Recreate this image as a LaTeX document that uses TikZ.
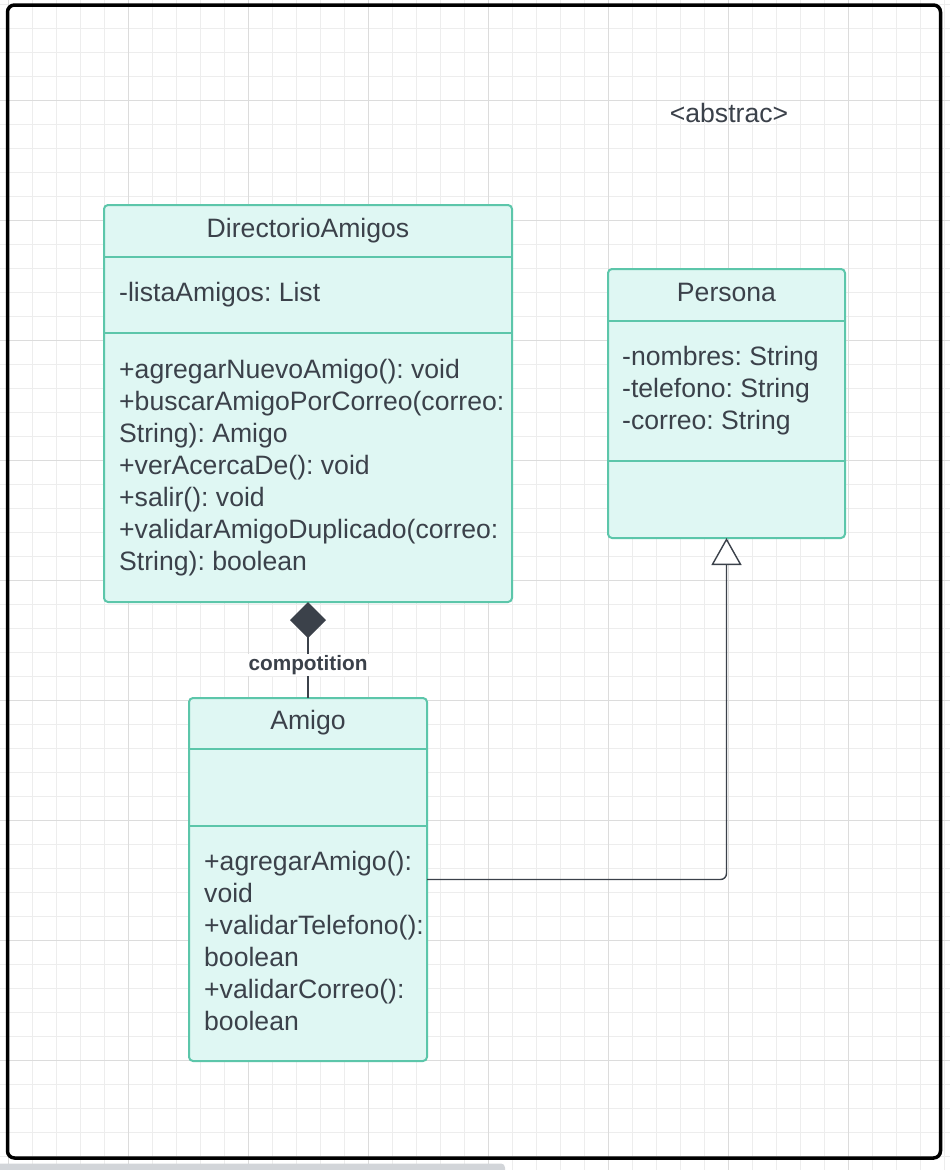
\documentclass[tikz,border=0pt]{standalone}
\usepackage{fontspec}
\setmainfont{Liberation Sans}
\usetikzlibrary{arrows.meta}
\definecolor{gridminor}{HTML}{EDEDED}
\definecolor{gridmajor}{HTML}{DCDCDC}
\definecolor{umlline}{HTML}{5CC6AA}
\definecolor{umlfill}{HTML}{DFF7F3}
\definecolor{ink}{HTML}{3B414A}
\definecolor{barcol}{HTML}{D2D5D9}
\frenchspacing
\tikzset{
  gminor/.style={draw=gridminor, line width=1pt},
  gmajor/.style={draw=gridmajor, line width=1pt},
  umlbox/.style={draw=umlline, fill=umlfill, line width=2pt, rounded corners=4pt,
    inner sep=0pt, outer sep=0pt, anchor=north west},
  divider/.style={draw=umlline, line width=2pt},
  txt/.style={anchor=base west, inner sep=0pt, text=ink, font=\fontsize{26.6}{32}\selectfont},
  ttl/.style={anchor=base, inner sep=0pt, text=ink, font=\fontsize{26.6}{32}\selectfont},
  conn/.style={draw=ink, line width=1.4pt},
  lbl/.style={fill=white, inner sep=1.5pt, text=ink, font=\bfseries\fontsize{20.8}{24}\selectfont}
}
\begin{document}
\begin{tikzpicture}[x=1pt,y=-1pt]
\useasboundingbox (0,0) rectangle (950,1170);
\fill[white] (0,0) rectangle (950,1170);
% grid
\foreach \x in {8,32,...,944} \draw[gminor] (\x,0) -- (\x,1170);
\foreach \y in {4,28,...,1168} \draw[gminor] (0,\y) -- (950,\y);
\foreach \x in {8,128,...,848} \draw[gmajor] (\x,0) -- (\x,1170);
\foreach \y in {100,220,...,1060} \draw[gmajor] (0,\y) -- (950,\y);
% bottom bar
\fill[barcol, rounded corners=4pt] (-10,1163.5) rectangle (505,1180);
% frame
\node[draw=black, line width=3.5pt, rounded corners=7pt, inner sep=0pt, outer sep=0pt,
  minimum width=933pt, minimum height=1153pt, anchor=north west] (frame) at (7.5,5) {};
% stereotype text
\node[ttl] (abs) at (729,122) {<abstrac>};

% DirectorioAmigos
\node[umlbox, minimum width=408pt, minimum height=397pt] (dir) at (104,205) {};
\draw[divider] (104,256.5) -- (512,256.5);
\draw[divider] (104,333) -- (512,333);
\node[ttl] (dirT) at (308,237) {DirectorioAmigos};
\node[txt] (dirA1) at (119,301) {-listaAmigos: List};
\node[txt] (dirM1) at (119,378) {+agregarNuevoAmigo(): void};
\node[txt] (dirM2) at (119,410) {+buscarAmigoPorCorreo(correo:};
\node[txt] (dirM3) at (119,442) {String): Amigo};
\node[txt] (dirM4) at (119,474) {+verAcercaDe(): void};
\node[txt] (dirM5) at (119,506) {+salir(): void};
\node[txt] (dirM6) at (119,538) {+validarAmigoDuplicado(correo:};
\node[txt] (dirM7) at (119,570) {String): boolean};

% Persona
\node[umlbox, minimum width=237pt, minimum height=269pt] (per) at (608,269) {};
\draw[divider] (608,320.5) -- (845,320.5);
\draw[divider] (608,461) -- (845,461);
\node[ttl] (perT) at (726.5,301) {Persona};
\node[txt] (perA1) at (622,365) {-nombres: String};
\node[txt] (perA2) at (622,397) {-telefono: String};
\node[txt] (perA3) at (622,429) {-correo: String};

% Amigo
\node[umlbox, minimum width=238pt, minimum height=363pt] (ami) at (189,698) {};
\draw[divider] (189,748.5) -- (427,748.5);
\draw[divider] (189,826) -- (427,826);
\node[ttl] (amiT) at (308,729) {Amigo};
\node[txt] (amiM1) at (204,870) {+agregarAmigo():};
\node[txt] (amiM2) at (204,902) {void};
\node[txt] (amiM3) at (204,934) {+validarTelefono():};
\node[txt] (amiM4) at (204,966) {boolean};
\node[txt] (amiM5) at (204,998) {+validarCorreo():};
\node[txt] (amiM6) at (204,1030) {boolean};

% composition
\draw[conn, line width=2pt, -{Diamond[length=36pt,width=36pt,line width=0pt]}, fill=ink]
  (ami.north) -- node[lbl, pos=0.345] (compLbl) {compotition} (dir.south);
% generalization
\draw[conn, rounded corners=6pt, -{Triangle[length=27pt,width=30pt,fill=white]}]
  (ami.east) -| (per.south);
\end{tikzpicture}
\end{document}
